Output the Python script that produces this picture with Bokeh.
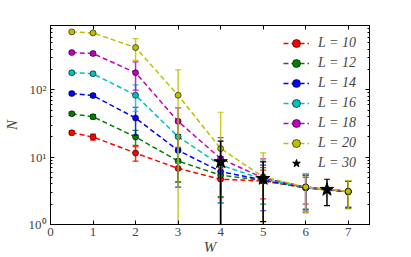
import numpy as np
from bokeh.plotting import figure
from bokeh.models import (ColumnDataSource, Legend, LegendItem, LinearAxis, LogAxis,
                          FixedTicker, LogTicker, CustomJSTickFormatter)
from bokeh.embed import file_html
from bokeh.resources import INLINE

# ---- data ----
W = [0.5, 1, 2, 3, 4, 5, 6, 7]
N_L10 = [23, 19.9, 11.5, 6.8, 4.7, 4.4, 3.5, 3.05]
N_L12 = [44, 39.8, 19.9, 8.75, 5.4, 4.5, 3.5, 3.05]
N_L14 = [88, 82, 38, 12.6, 6.1, 4.6, 3.55, 3.1]
N_L16 = [179, 173, 83, 20.1, 7.6, 4.7, 3.55, 3.1]
N_L18 = [357, 345, 179, 34, 9.5, 4.9, 3.6, 3.1]
N_L20 = [723, 699, 423, 83, 13.4, 5.1, 3.6, 3.1]
E_L10 = [1.5, 2, 2.8, 2.5, 2.2, 2.0, 1.5, 1.3]
E_L12 = [2.5, 3, 5, 4.5, 2.8, 2.5, 1.8, 1.3]
E_L14 = [4, 5, 17, 9, 4, 3.0, 1.9, 1.3]
E_L16 = [8, 10, 35, 12, 5.5, 4.0, 2.0, 1.3]
E_L18 = [15, 20, 80, 20, 10, 4.5, 2.1, 1.3]
E_L20 = [30, 30, 150, 115, 33, 6.5, 2.1, 1.4]
W_L30 = [4, 5, 6.5]
N_L30 = [8.5, 4.8, 3.3]
E_L30 = [8.8, 3.7, 1.4]
labels = ["L = 10", "L = 12", "L = 14", "L = 16", "L = 18", "L = 20", "L = 30"]
x_ticks = [0, 1, 2, 3, 4, 5, 6, 7]
y_ticks = [1, 10, 100]
y_tick_labels = ["10\u2070", "10\u00b9", "10\u00b2"]

series = [
    (N_L10, E_L10, "#ff0000"),
    (N_L12, E_L12, "#008000"),
    (N_L14, E_L14, "#0000ff"),
    (N_L16, E_L16, "#00bfbf"),
    (N_L18, E_L18, "#bf00bf"),
    (N_L20, E_L20, "#bfbf00"),
]

FONT = "Liberation Serif"

p = figure(x_range=(0, 7.5), y_range=(1, 900), y_axis_type="log",
           frame_width=319, frame_height=199,
           min_border_left=43, min_border_right=33, min_border_top=25, min_border_bottom=26,
           output_backend="svg", toolbar_location=None)
p.background_fill_color = "white"
p.border_fill_color = "white"
p.outline_line_color = "black"
p.outline_line_width = 1
p.xgrid.visible = False
p.ygrid.visible = False


def lower(n, e):
    lo = np.array(n) - np.array(e)
    return np.where(lo > 0, lo, 1e-3)


items = []
for (n, e, c), lab in zip(series, labels[:6]):
    n = np.array(n, dtype=float)
    e = np.array(e, dtype=float)
    src = ColumnDataSource(dict(x=W, y=n, up=n + e, lo=lower(n, e)))
    p.segment(x0="x", y0="lo", x1="x", y1="up", source=src,
              line_color=c, line_alpha=0.85, line_width=1.5)
    p.scatter(x="x", y="up", source=src, marker="dash", size=6,
              line_color=c, line_alpha=0.85, line_width=1.2)
    p.scatter(x="x", y="lo", source=src, marker="dash", size=6,
              line_color=c, line_alpha=0.85, line_width=1.2)
    ln = p.line(x="x", y="y", source=src, line_color=c, line_width=1.5,
                line_dash="5 3")
    pts = p.scatter(x="x", y="y", source=src, marker="circle", size=6,
                    fill_color=c, line_color="black", line_width=0.6)
    items.append(LegendItem(label=lab, renderers=[ln, pts]))

n30 = np.array(N_L30, dtype=float)
e30 = np.array(E_L30, dtype=float)
src30 = ColumnDataSource(dict(x=W_L30, y=n30, up=n30 + e30, lo=lower(n30, e30)))
p.segment(x0="x", y0="lo", x1="x", y1="up", source=src30,
          line_color="black", line_width=1.5)
p.scatter(x="x", y="up", source=src30, marker="dash", size=6,
          line_color="black", line_width=1.2)
p.scatter(x="x", y="lo", source=src30, marker="dash", size=6,
          line_color="black", line_width=1.2)
st = p.scatter(x="x", y="y", source=src30, marker="star", size=14,
               fill_color="black", line_color="black")
items.append(LegendItem(label=labels[6], renderers=[st]))

legend = Legend(items=items, location=(233, 51))
legend.border_line_color = None
legend.background_fill_alpha = 0
legend.label_text_font = FONT
legend.label_text_font_size = "14px"
legend.label_text_font_style = "italic"
legend.label_height = 20
legend.glyph_height = 20
legend.glyph_width = 26
legend.spacing = 0
legend.padding = 2
legend.margin = 0
legend.label_standoff = 9
p.add_layout(legend)

# axes styling
for ax in [p.xaxis[0], p.yaxis[0]]:
    ax.major_tick_in = 4
    ax.major_tick_out = 0
    ax.minor_tick_in = 2
    ax.minor_tick_out = 0
    ax.axis_line_color = "black"
    ax.major_label_text_font = FONT
    ax.major_label_text_font_size = "13px"
    ax.axis_label_text_font = FONT
    ax.axis_label_text_font_size = "15px"
    ax.axis_label_text_font_style = "italic"

p.xaxis[0].ticker = FixedTicker(ticks=x_ticks)
p.xaxis[0].minor_tick_line_color = None
p.xaxis[0].axis_label = "W"
p.xaxis[0].major_label_standoff = 3
p.xaxis[0].axis_label_standoff = 0

p.yaxis[0].ticker = LogTicker(num_minor_ticks=10, desired_num_ticks=3)
p.yaxis[0].major_label_overrides = {t: s for t, s in zip(y_ticks, y_tick_labels)}
p.yaxis[0].axis_label = "N"
p.yaxis[0].major_label_standoff = 4
p.yaxis[0].axis_label_standoff = 6

blank = CustomJSTickFormatter(code="return ''")
top = LinearAxis(ticker=FixedTicker(ticks=x_ticks), formatter=blank,
                 major_tick_in=4, major_tick_out=0, minor_tick_line_color=None,
                 major_label_standoff=0)
right = LogAxis(ticker=LogTicker(num_minor_ticks=10, desired_num_ticks=3), formatter=blank,
                major_tick_in=4, major_tick_out=0, minor_tick_in=2, minor_tick_out=0,
                major_label_standoff=0)
p.add_layout(top, "above")
p.add_layout(right, "right")

open("out.html", "w").write(file_html(p, INLINE))
